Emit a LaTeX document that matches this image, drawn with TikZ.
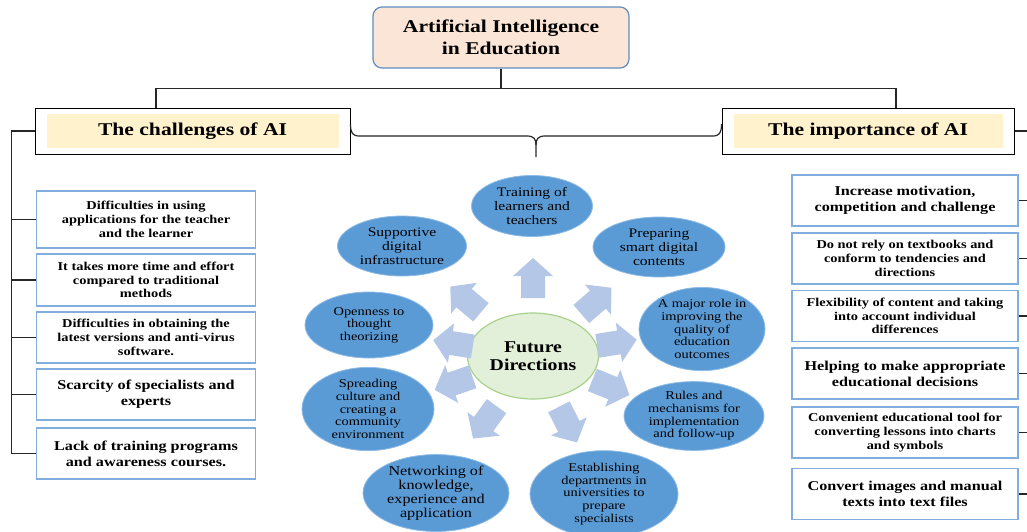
\documentclass[tikz,border=0pt]{standalone}
\usepackage{fontspec}
\setmainfont{Liberation Serif}[FakeStretch=1.2]
\usetikzlibrary{calc,shapes.geometric}

\definecolor{titlefill}{HTML}{FBE5D6}
\definecolor{titleline}{HTML}{5F8DC0}
\definecolor{hdrfill}{HTML}{FFF2CC}
\definecolor{boxline}{HTML}{82AEDF}
\definecolor{ellfill}{HTML}{5B9BD5}
\definecolor{ellline}{HTML}{8FBCE6}
\definecolor{arrowfill}{HTML}{B4C7E7}
\definecolor{fdfill}{HTML}{E2F0D9}
\definecolor{fdline}{HTML}{A9D18E}

\newcommand\fsz[2]{\fontsize{#1}{#2}\selectfont}

\tikzset{
    link/.style={line width=1.2pt, black!85},
    titlebox/.style={draw=titleline, fill=titlefill, line width=1.2pt, rounded corners=9pt,
        minimum width=256pt, minimum height=61pt, align=center, font=\bfseries\fsz{18}{22}},
    header/.style={draw, line width=1pt, minimum height=46pt, inner sep=0pt, font=\bfseries\fsz{18}{21},
        path picture={\fill[hdrfill] ($ (path picture bounding box.north west) + (11.5,6) $)
            rectangle ($ (path picture bounding box.south east) + (-11.5,-6) $);}},
    listbox/.style={draw=boxline, line width=1.3pt, inner sep=0pt, align=center,
        minimum width=#1, minimum height=51pt},
    txtS/.style={font=\bfseries\fsz{12}{13.7}},
    txtL/.style={font=\bfseries\fsz{13.5}{16}},
    direll/.style={ellipse, fill=ellfill, draw=ellline, line width=0.8pt, inner sep=0pt,
        align=center, font=\fsz{12}{12.6}},
    dirlarge/.style={font=\fsz{13}{14}},
    fdell/.style={ellipse, fill=fdfill, draw=fdline, line width=1.2pt, inner sep=0pt,
        minimum width=131pt, minimum height=86pt, align=center, font=\bfseries\fsz{16.5}{18}},
}

% Variables: 1 := angle, 2 := distance from the centre.
\def\fdarrow#1#2{
    \begin{scope}[shift={($ (fd) + (#1:#2pt) $)}, rotate=#1]
        \fill[arrowfill] (-20,-12) -- (2,-12) -- (2,-20) -- (20,0) -- (2,20) -- (2,12) -- (-20,12) -- cycle;
    \end{scope}
}

\begin{document}
\begin{tikzpicture}[x=1pt,y=-1pt]
\useasboundingbox (0,0) rectangle (1027,531);
\clip (0,0) rectangle (1027,531);

\node[titlebox] (aie) at (501,37.5) {Artificial Intelligence\\in Education};
\node[header, minimum width=315pt] (chal) at (192.5,131) {The challenges of AI};
\node[header, minimum width=292pt] (imp) at (868,131) {The importance of AI};

\draw[link] (aie.south) -- ++(0,20) coordinate (top) -| ($ (chal.north) + (-36.5,0) $);
\draw[link] (top) -| ($ (imp.north) + (28,0) $);

\coordinate (B) at ($ (chal.east)!0.5!(imp.west) + (0,5) $);
\draw[link] ($ (chal.east) + (0,-7) $) .. controls ($ (chal.east) + (0,2) $) and ($ (chal.east) + (2,5) $) .. ($ (chal.east) + (9,5) $)
    -- ($ (B) + (-9,0) $) .. controls ($ (B) + (-2,0) $) and ($ (B) + (0,3) $) .. ($ (B) + (0,9) $)
    -- ($ (B) + (0,21) $);
\draw[link] ($ (B) + (0,9) $) .. controls ($ (B) + (0,3) $) and ($ (B) + (2,0) $) .. ($ (B) + (9,0) $)
    -- ($ (imp.west) + (-9,5) $) .. controls ($ (imp.west) + (-2,5) $) and ($ (imp.west) + (0,2) $) .. ($ (imp.west) + (0,-7) $);

% challenges
\node[listbox=219pt, txtS, minimum height=57pt] (c1) at (146,219.5) {Difficulties in using\\applications for the teacher\\and the learner};
\node[listbox=219pt, txtS, minimum height=52pt] (c2) at (146,280) {It takes more time and effort\\compared to traditional\\methods};
\node[listbox=219pt, txtS] (c3) at (146,337.5) {Difficulties in obtaining the\\latest versions and anti-virus\\software.};
\node[listbox=219pt, txtL] (c4) at (146,394.5) {Scarcity of specialists and\\experts};
\node[listbox=219pt, txtL] (c5) at (146,453.5) {Lack of training programs\\and awareness courses.};

\draw[link] (chal.west) -- ++(-23,0) coordinate (LT) |- (c5.west);
\draw[link] (LT |- c1.west) -- (c1.west);
\draw[link] (LT |- c2.west) -- (c2.west);
\draw[link] (LT |- c3.west) -- (c3.west);
\draw[link] (LT |- c4.west) -- (c4.west);

% importance
\node[listbox=226pt, txtL] (i1) at (905,200.5) {Increase motivation,\\competition and challenge};
\node[listbox=226pt, txtS] (i2) at (905,258.5) {Do not rely on textbooks and\\conform to tendencies and\\directions};
\node[listbox=226pt, txtS] (i3) at (905,316) {Flexibility of content and taking\\into account individual\\differences};
\node[listbox=226pt, txtL] (i4) at (905,373.5) {Helping to make appropriate\\educational decisions};
\node[listbox=226pt, txtS] (i5) at (905,432.5) {Convenient educational tool for\\converting lessons into charts\\and symbols};
\node[listbox=226pt, txtL] (i6) at (905,494) {Convert images and manual\\texts into text files};

\draw[link] (imp.east) -- ++(16,0) coordinate (RT) |- (i6.east);
\draw[link] (RT |- i1.east) -- (i1.east);
\draw[link] (RT |- i2.east) -- (i2.east);
\draw[link] (RT |- i3.east) -- (i3.east);
\draw[link] (RT |- i4.east) -- (i4.east);
\draw[link] (RT |- i5.east) -- (i5.east);

% future directions
\node[fdell] (fd) at (533,356) {Future\\Directions};
\node[direll, dirlarge, minimum width=121pt, minimum height=61pt] (d1) at (532,206) {Training of\\learners and\\teachers};
\node[direll, dirlarge, minimum width=132pt, minimum height=60pt] (d2) at (659,247) {Preparing\\smart digital\\contents};
\node[direll, minimum width=126pt, minimum height=77pt] (d3) at (702,329) {A major role in\\improving the\\quality of\\education\\outcomes};
\node[direll, minimum width=140pt, minimum height=63pt] (d4) at (694,416) {Rules and\\mechanisms for\\implementation\\and follow-up};
\node[direll, minimum width=148pt, minimum height=76pt] (d5) at (604,494) {Establishing\\departments in\\universities to\\prepare\\specialists};
\node[direll, dirlarge, font=\fsz{13.5}{14}, minimum width=146pt, minimum height=74pt] (d6) at (436,493) {Networking of\\knowledge,\\experience and\\application};
\node[direll, minimum width=132pt, minimum height=70pt] (d7) at (368,409) {Spreading\\culture and\\creating a\\community\\environment};
\node[direll, minimum width=128pt, minimum height=66pt] (d8) at (369,325) {Openness to\\thought\\theorizing};
\node[direll, dirlarge, minimum width=129pt, minimum height=60pt] (d9) at (402,246) {Supportive\\digital\\infrastructure};

\fdarrow{90}{78}
\fdarrow{41}{84}
\fdarrow{9}{85}
\fdarrow{-22}{84}
\fdarrow{297}{77}
\fdarrow{234}{82}
\fdarrow{199}{84}
\fdarrow{171}{81}
\fdarrow{140}{88}
\end{tikzpicture}
\end{document}
